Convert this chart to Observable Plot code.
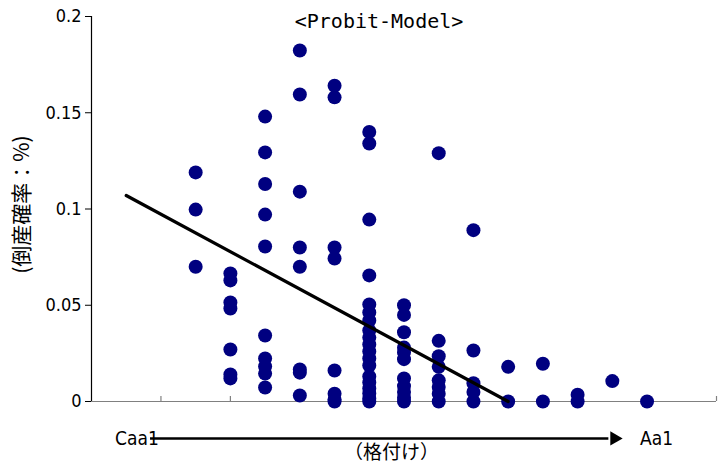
<!DOCTYPE html>
<html>
<head>
<meta charset="utf-8">
<script src="https://cdn.jsdelivr.net/npm/d3@7"></script>
<script src="https://cdn.jsdelivr.net/npm/@observablehq/plot@0.6"></script>
<style>
  html, body { margin: 0; padding: 0; background: #fff; }
  svg { display: block; }
</style>
</head>
<body>
<div id="chart"></div>
<script>
// Rating position on the horizontal axis (Caa1 ... Aa1)
const ratingPos = [3, 4, 5, 6, 7, 8, 9, 10, 11, 12, 13, 14, 15, 16];
// Observed default probabilities (%) for each rating position
const defaultProbs = [
  [0.119, 0.0997, 0.070],
  [0.0665, 0.0629, 0.0514, 0.0483, 0.027, 0.014, 0.012],
  [0.148, 0.1294, 0.113, 0.0971, 0.0805, 0.0343, 0.0223, 0.0182, 0.0145, 0.0073],
  [0.1823, 0.1595, 0.109, 0.080, 0.070, 0.0166, 0.015, 0.0031],
  [0.164, 0.158, 0.080, 0.0743, 0.0161, 0.004, 0.001, 0],
  [0.140, 0.134, 0.0945, 0.0655, 0.0504, 0.0462, 0.0421, 0.0369, 0.0332, 0.0296, 0.026, 0.0223, 0.0187, 0.013, 0.0099, 0.0068, 0.0042, 0.0016, 0],
  [0.050, 0.045, 0.036, 0.028, 0.0255, 0.022, 0.012, 0.008, 0.005, 0.002, 0],
  [0.129, 0.0315, 0.0235, 0.018, 0.011, 0.0075, 0.004, 0],
  [0.089, 0.0265, 0.0095, 0.005, 0],
  [0.018, 0],
  [0.0196, 0],
  [0.0035, 0],
  [0.0106],
  [0]
];
// Fitted probit line (start and end)
const fitX = [1, 12];
const fitY = [0.107, 0];
// Axis ticks
const yTicks = [0, 0.05, 0.1, 0.15, 0.2];
const xTicks = [2, 4, 6, 8, 10, 12, 14, 16, 18];
// Texts
const titleText = "<Probit-Model>";
const yLabel = "(倒産確率：%)";
const xLabel = "（格付け）";
const lowLabel = "Caa1";
const highLabel = "Aa1";

const points = ratingPos.flatMap((x, i) => defaultProbs[i].map(p => ({x, p})));
const fit = fitX.map((x, i) => ({x, y: fitY[i]}));

const font = "'Liberation Sans Narrow', 'DejaVu Sans Condensed', 'Liberation Sans', sans-serif";
const cjk = "'Noto Sans CJK JP', sans-serif";
const arrowY = -0.0192;

const chart = Plot.plot({
  width: 727,
  height: 468,
  marginLeft: 91,
  marginRight: 11,
  marginTop: 16,
  marginBottom: 67,
  style: {fontFamily: font, background: "#fff", color: "#000"},
  x: {type: "linear", domain: [0, 18], axis: null},
  y: {type: "linear", domain: [0, 0.2], axis: null},
  marks: [
    // x axis: gray baseline with inward ticks
    Plot.ruleY([0], {stroke: "#808080", strokeWidth: 1.2}),
    Plot.ruleX(xTicks, {x: d => d, y1: 0, y2: 0, insetTop: -5, stroke: "#808080", strokeWidth: 1.2}),
    // y axis
    Plot.axisY(yTicks, {anchor: "left", tickSize: 6, tickPadding: 4, tickFormat: d => String(d), fontSize: 18, label: null, stroke: "#000"}),
    Plot.ruleX([0], {stroke: "#000", strokeWidth: 1.2}),
    // data
    Plot.dot(points, {x: "x", y: "p", r: 7, fill: "#000080", stroke: "none"}),
    Plot.line(fit, {x: "x", y: "y", stroke: "#000", strokeWidth: 3.2}),
    // title
    Plot.text([titleText], {frameAnchor: "top", dx: -25, dy: 5, text: d => d, fontSize: 20, fontFamily: "'DejaVu Sans Mono', 'Liberation Mono', monospace", lineAnchor: "middle"}),
    // y label
    Plot.text([yLabel], {x: -2.0, y: 0.1023, rotate: -90, text: d => d, fontSize: 21, fontFamily: cjk, lineAnchor: "middle", clip: false, ariaLabel: "ylabel"}),
    // bottom arrow annotation
    Plot.ruleY([arrowY], {x1: 1.7, x2: 14.9, stroke: "#000", strokeWidth: 2.5, clip: false}),
    Plot.dot([arrowY], {x: 15.06, y: d => d, symbol: "triangle", r: 5.3, rotate: 90, fill: "#000", stroke: "none"}),
    Plot.text([lowLabel], {x: 1.94, y: arrowY, text: d => d, textAnchor: "end", fontSize: 19, lineAnchor: "middle"}),
    Plot.text([highLabel], {x: 15.8, y: arrowY, text: d => d, textAnchor: "start", fontSize: 19, lineAnchor: "middle"}),
    Plot.text([xLabel], {x: 8.64, y: arrowY, dy: 14, text: d => d, fontSize: 19, fontFamily: cjk, lineAnchor: "middle"})
  ]
});
// stretch along the reading direction and flatten the rotated y label glyphs like the original
const yl = chart.querySelector('g[aria-label="ylabel"] text');
if (yl) {
  const tr = yl.getAttribute("transform") || "";
  yl.setAttribute("transform", tr + " scale(1.2,0.66)");
}
document.getElementById("chart").appendChild(chart);
</script>
</body>
</html>
